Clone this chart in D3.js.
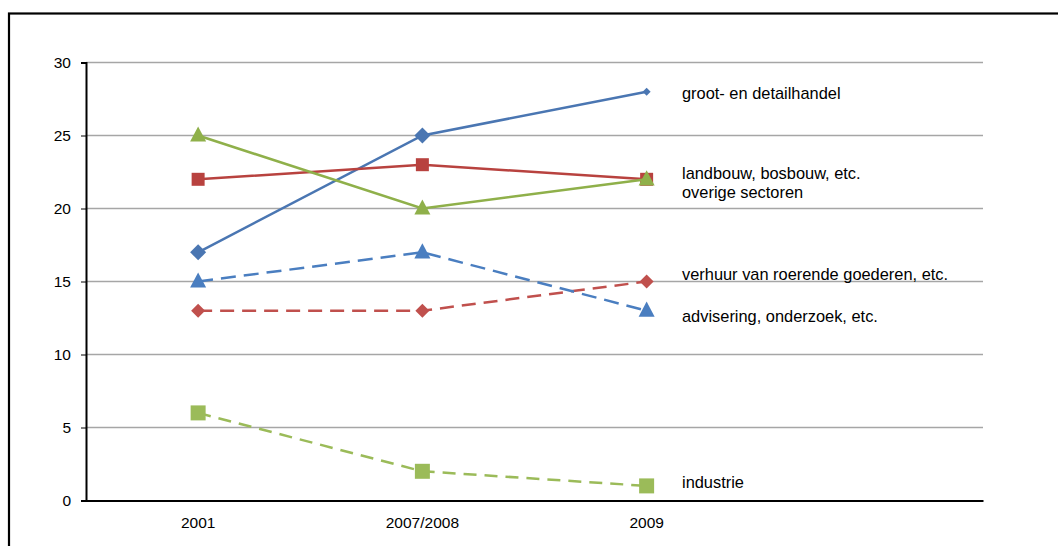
<!DOCTYPE html>
<html>
<head>
<meta charset="utf-8">
<script src="https://cdn.jsdelivr.net/npm/d3@7"></script>
<style>
  html, body { margin: 0; padding: 0; background: #fff; }
  svg { display: block; }
  text { font-family: "Liberation Sans", Arial, sans-serif; fill: #000; }
</style>
</head>
<body>
<svg id="chart" width="1058" height="546"></svg>
<script>
// Periods on the x axis (a fourth, empty slot holds the series labels)
const periods = ["2001", "2007/2008", "2009"];
const yTicks = [0, 5, 10, 15, 20, 25, 30];

// Series names and values per period
const seriesNames = [
  "groot- en detailhandel",
  "landbouw, bosbouw, etc.",
  "overige sectoren",
  "verhuur van roerende goederen, etc.",
  "advisering, onderzoek, etc.",
  "industrie"
];
const grootDetailhandel = [17, 25, 28];
const landbouwBosbouw   = [22, 23, 22];
const overigeSectoren   = [25, 20, 22];
const verhuurGoederen   = [13, 13, 15];
const advisering        = [15, 17, 13];
const industrie         = [6, 2, 1];

const values = [grootDetailhandel, landbouwBosbouw, overigeSectoren,
                verhuurGoederen, advisering, industrie];

// Styling per series
const styles = [
  { color: "#4A76B2", dash: null,   shape: "diamond",  size: [16, 16, 8] },
  { color: "#B8423F", dash: null,   shape: "square",   size: [13, 13, 13] },
  { color: "#8FB04A", dash: null,   shape: "triangle", size: [16, 16, 16] },
  { color: "#C0504D", dash: "14,8", shape: "diamond",  size: [14, 14, 14] },
  { color: "#4A7EC0", dash: "15,8", shape: "triangle", size: [16, 16, 16] },
  { color: "#9BBB59", dash: "13,8", shape: "square",   size: [15, 15, 15] }
];
// Vertical pixel nudge of each end label, so close labels do not collide
const labelNudge = [0, -7, 12, -9, 4, -5];

const svg = d3.select("#chart");

// Outer frame
svg.append("rect")
  .attr("x", 9).attr("y", 13.5)
  .attr("width", 1060).attr("height", 560)
  .attr("fill", "none").attr("stroke", "#000").attr("stroke-width", 2.2);

const plot = { left: 86, right: 983, top: 62.5, bottom: 500.5 };

const x = d3.scaleBand()
  .domain([...periods, "__labels"])
  .range([plot.left, plot.right])
  .paddingInner(0).paddingOuter(0);
const xc = p => x(p) + x.bandwidth() / 2;

const y = d3.scaleLinear().domain([0, 30]).range([plot.bottom, plot.top]);

// Horizontal gridlines
svg.append("g")
  .selectAll("line")
  .data(yTicks.filter(t => t > 0))
  .join("line")
  .attr("x1", plot.left).attr("x2", plot.right)
  .attr("y1", d => y(d)).attr("y2", d => y(d))
  .attr("stroke", "#a6a6a6").attr("stroke-width", 1.3);

// Y axis
const yAxis = svg.append("g")
  .attr("transform", `translate(${plot.left},0)`)
  .call(d3.axisLeft(y).tickValues(yTicks).tickSize(5).tickPadding(10));
yAxis.select(".domain").attr("stroke", "#000").attr("stroke-width", 2);
yAxis.selectAll(".tick line").attr("stroke", "#000").attr("stroke-width", 1);
yAxis.selectAll("text")
  .attr("font-size", 15.5)
  .attr("font-family", "Liberation Sans, Arial, sans-serif");

// X axis
const xAxis = svg.append("g")
  .attr("transform", `translate(0,${plot.bottom})`)
  .call(d3.axisBottom(x).tickSize(0).tickPadding(16)
    .tickFormat(d => d === "__labels" ? "" : d));
xAxis.select(".domain").attr("stroke", "#000").attr("stroke-width", 2.2);
xAxis.selectAll("text")
  .attr("font-size", 15.5)
  .attr("font-family", "Liberation Sans, Arial, sans-serif");

const line = d3.line()
  .x((d, i) => xc(periods[i]))
  .y(d => y(d));

function symbolPath(shape, s) {
  if (shape === "diamond") {
    const h = s / 2;
    return `M0,${-h}L${h},0L0,${h}L${-h},0Z`;
  }
  if (shape === "square") {
    const h = s / 2;
    return `M${-h},${-h}H${h}V${h}H${-h}Z`;
  }
  // triangle, base at bottom
  const h = s * 0.95;
  return `M0,${-h * 0.6}L${s / 2},${h * 0.4}L${-s / 2},${h * 0.4}Z`;
}

const series = svg.append("g")
  .selectAll("g")
  .data(values.map((v, i) => ({ name: seriesNames[i], v, st: styles[i], nudge: labelNudge[i] })))
  .join("g");

series.append("path")
  .attr("d", d => line(d.v))
  .attr("fill", "none")
  .attr("stroke", d => d.st.color)
  .attr("stroke-width", 2.5)
  .attr("stroke-dasharray", d => d.st.dash);

series.each(function (d) {
  d3.select(this).selectAll("path.mark")
    .data(d.v)
    .join("path")
    .attr("class", "mark")
    .attr("transform", (v, i) => `translate(${xc(periods[i])},${y(v)})`)
    .attr("d", (v, i) => symbolPath(d.st.shape, d.st.size[i]))
    .attr("fill", d.st.color);
});

// End labels in the empty fourth slot
series.append("text")
  .attr("x", 682)
  .attr("y", d => y(d.v[d.v.length - 1]) + 7 + d.nudge)
  .attr("font-size", 16.4)
  .text(d => d.name);
</script>
</body>
</html>
